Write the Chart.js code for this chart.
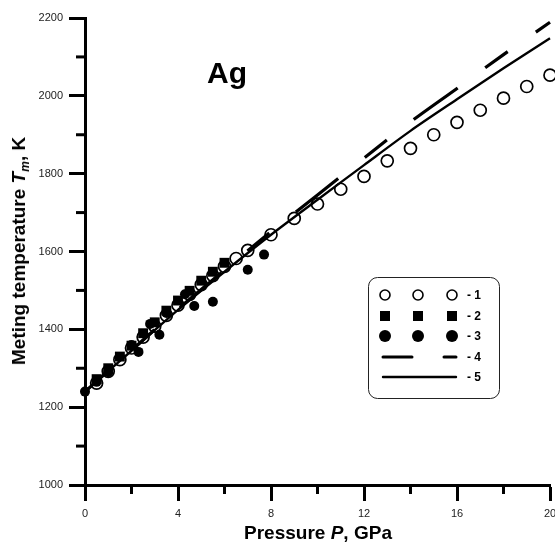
<!DOCTYPE html>
<html>
<head>
<meta charset="utf-8">
<script src="https://cdn.jsdelivr.net/npm/chart.js@4.4.1/dist/chart.umd.min.js"></script>
<style>
  body { margin: 0; background: #fff; overflow: hidden; }
  #wrap { position: relative; width: 555px; height: 542px; font-family: "Liberation Sans", Arial, sans-serif; }
  .lbl { position: absolute; white-space: nowrap; font-weight: bold; color: #000; line-height: 1; }
  #xtitle { left: 318px; top: 532px; font-size: 19px; transform: translate(-50%, -50%); }
  #ytitle { left: 20px; top: 251px; font-size: 19px; transform: translate(-50%, -50%) rotate(-90deg); }
  #ag { left: 227px; top: 73px; font-size: 30px; transform: translate(-50%, -50%); }
  sub { font-size: 12px; vertical-align: -4px; }
</style>
</head>
<body>
<div id="wrap">
  <canvas id="chart" width="555" height="542"></canvas>
  <div class="lbl" id="ag">Ag</div>
  <div class="lbl" id="xtitle">Pressure <i>P</i>, GPa</div>
  <div class="lbl" id="ytitle">Meting temperature <i>T</i><sub><i>m</i></sub>, K</div>
</div>
<script>
// series 1 - open circles
const pOpen = [0.5, 1, 1.5, 2, 2.5, 3, 3.5, 4, 4.5, 5, 5.5, 6, 6.5, 7, 8, 9, 10, 11, 12, 13, 14, 15, 16, 17, 18, 19, 20];
const tOpen = [1262, 1292, 1322, 1352, 1380, 1408, 1436, 1462, 1490, 1515, 1538, 1562, 1582, 1603, 1643, 1685, 1722, 1760, 1793, 1833, 1865, 1900, 1932, 1963, 1994, 2024, 2053];

// series 2 - filled squares
const pSquare = [0.5, 1, 1.5, 2, 2.5, 3, 3.5, 4, 4.5, 5, 5.5, 6];
const tSquare = [1272, 1300, 1330, 1358, 1390, 1418, 1448, 1474, 1499, 1525, 1548, 1571];

// series 3 - filled circles
const pFilled = [0, 0.5, 1, 2, 2.3, 2.8, 3.2, 3.5, 4.3, 4.7, 5.5, 7, 7.7];
const tFilled = [1240, 1265, 1290, 1360, 1342, 1414, 1386, 1442, 1490, 1460, 1471, 1553, 1592];

// lines 4 (dashed) and 5 (solid)
const pLine = [0, 2, 4, 6, 8, 10, 12, 14, 16, 18, 20];
const tDashed = [1240, 1346, 1452, 1552, 1651, 1745, 1840, 1933, 2019, 2106, 2189];
const tSolid = [1240, 1345, 1450, 1548, 1643, 1733, 1822, 1910, 1991, 2071, 2148];

// ticks
const xMinorTicks = [2, 6, 10, 14, 18];
const yMinorTicks = [1100, 1300, 1500, 1700, 1900, 2100];
const legendLabels = ['- 1', '- 2', '- 3', '- 4', '- 5'];

const toXY = (ps, ts) => ps.map((p, i) => ({ x: p, y: ts[i] }));

// short minor ticks between the labelled ones
const minorTicks = {
    id: 'minorTicks',
    afterDraw(chart) {
        const { ctx, chartArea: a, scales: { x, y } } = chart;
        ctx.save();
        ctx.strokeStyle = '#000';
        ctx.lineWidth = 3;
        yMinorTicks.forEach(v => {
            const py = y.getPixelForValue(v);
            ctx.beginPath(); ctx.moveTo(a.left - 9, py); ctx.lineTo(a.left, py); ctx.stroke();
        });
        xMinorTicks.forEach(v => {
            const px = x.getPixelForValue(v);
            ctx.beginPath(); ctx.moveTo(px, a.bottom); ctx.lineTo(px, a.bottom + 9); ctx.stroke();
        });
        ctx.restore();
    }
};

// legend box in the Origin style
const boxLegend = {
    id: 'boxLegend',
    afterDraw(chart) {
        const ctx = chart.ctx;
        const bx = 368, by = 277, bw = 131, bh = 121, r = 9;
        const rows = [295, 316, 336, 357, 377];
        const cols = [385, 418, 452];
        ctx.save();
        ctx.fillStyle = '#fff';
        ctx.strokeStyle = '#222';
        ctx.lineWidth = 1;
        ctx.beginPath();
        ctx.roundRect(bx + 0.5, by + 0.5, bw, bh, r);
        ctx.fill();
        ctx.stroke();

        ctx.fillStyle = '#000';
        ctx.strokeStyle = '#000';
        cols.forEach(cx => {
            ctx.lineWidth = 1.6;
            ctx.fillStyle = '#fff';
            ctx.beginPath(); ctx.arc(cx, rows[0], 5, 0, Math.PI * 2); ctx.fill(); ctx.stroke();
            ctx.fillStyle = '#000';
            ctx.fillRect(cx - 5, rows[1] - 5, 10, 10);
            ctx.beginPath(); ctx.arc(cx, rows[2], 6, 0, Math.PI * 2); ctx.fill();
        });
        ctx.lineWidth = 3;
        ctx.lineCap = 'round';
        ctx.beginPath(); ctx.moveTo(383, rows[3]); ctx.lineTo(412, rows[3]); ctx.stroke();
        ctx.beginPath(); ctx.moveTo(444, rows[3]); ctx.lineTo(456, rows[3]); ctx.stroke();
        ctx.lineWidth = 2.4;
        ctx.beginPath(); ctx.moveTo(383, rows[4]); ctx.lineTo(456, rows[4]); ctx.stroke();

        ctx.font = 'bold 12px "Liberation Sans", Arial, sans-serif';
        ctx.textBaseline = 'middle';
        legendLabels.forEach((t, i) => ctx.fillText(t, 467, rows[i] + 1));
        ctx.restore();
    }
};

new Chart(document.getElementById('chart'), {
    type: 'scatter',
    data: {
        datasets: [
            {
                label: '5',
                data: toXY(pLine, tSolid),
                showLine: true,
                borderColor: '#000',
                borderWidth: 2.4,
                pointRadius: 0,
                tension: 0.3,
                clip: false,
                order: 0
            },
            {
                label: '4',
                data: toXY(pLine, tDashed),
                showLine: true,
                borderColor: '#000',
                borderWidth: 3.2,
                borderDash: [54, 34, 28, 34],
                borderDashOffset: 23,
                pointRadius: 0,
                tension: 0.3,
                clip: false,
                order: 1
            },
            {
                label: '1',
                data: toXY(pOpen, tOpen),
                pointStyle: 'circle',
                pointRadius: 6,
                pointBackgroundColor: '#fff',
                pointBorderColor: '#000',
                pointBorderWidth: 1.7,
                clip: false,
                order: 4
            },
            {
                label: '2',
                data: toXY(pSquare, tSquare),
                pointStyle: 'rect',
                pointRadius: 7,
                pointBackgroundColor: '#000',
                pointBorderColor: '#000',
                pointBorderWidth: 0,
                order: 3
            },
            {
                label: '3',
                data: toXY(pFilled, tFilled),
                pointStyle: 'circle',
                pointRadius: 5,
                pointBackgroundColor: '#000',
                pointBorderColor: '#000',
                pointBorderWidth: 0,
                clip: false,
                order: 2
            }
        ]
    },
    options: {
        responsive: false,
        animation: false,
        devicePixelRatio: 1,
        layout: { autoPadding: false, padding: { top: 18, right: 5, left: 0, bottom: 0 } },
        plugins: { legend: { display: false }, tooltip: { enabled: false } },
        scales: {
            x: {
                type: 'linear',
                min: 0,
                max: 20,
                afterFit: s => { s.height = 57; s.paddingLeft = 0; s.paddingRight = 0; },
                border: { display: true, color: '#000', width: 3 },
                grid: { drawOnChartArea: false, drawTicks: true, tickLength: 16, tickWidth: 3, tickColor: '#000' },
                ticks: {
                    stepSize: 4,
                    padding: 6,
                    color: '#222',
                    font: { family: '"Liberation Sans", Arial, sans-serif', size: 11 },
                    maxRotation: 0,
                    callback: v => String(v)
                }
            },
            y: {
                type: 'linear',
                min: 1000,
                max: 2200,
                afterFit: s => { s.width = 85; s.paddingTop = 0; s.paddingBottom = 0; },
                border: { display: true, color: '#000', width: 3 },
                grid: { drawOnChartArea: false, drawTicks: true, tickLength: 16, tickWidth: 3, tickColor: '#000' },
                ticks: {
                    stepSize: 200,
                    padding: 6,
                    color: '#222',
                    font: { family: '"Liberation Sans", Arial, sans-serif', size: 11 },
                    callback: v => String(v)
                }
            }
        }
    },
    plugins: [minorTicks, boxLegend]
});
</script>
</body>
</html>
